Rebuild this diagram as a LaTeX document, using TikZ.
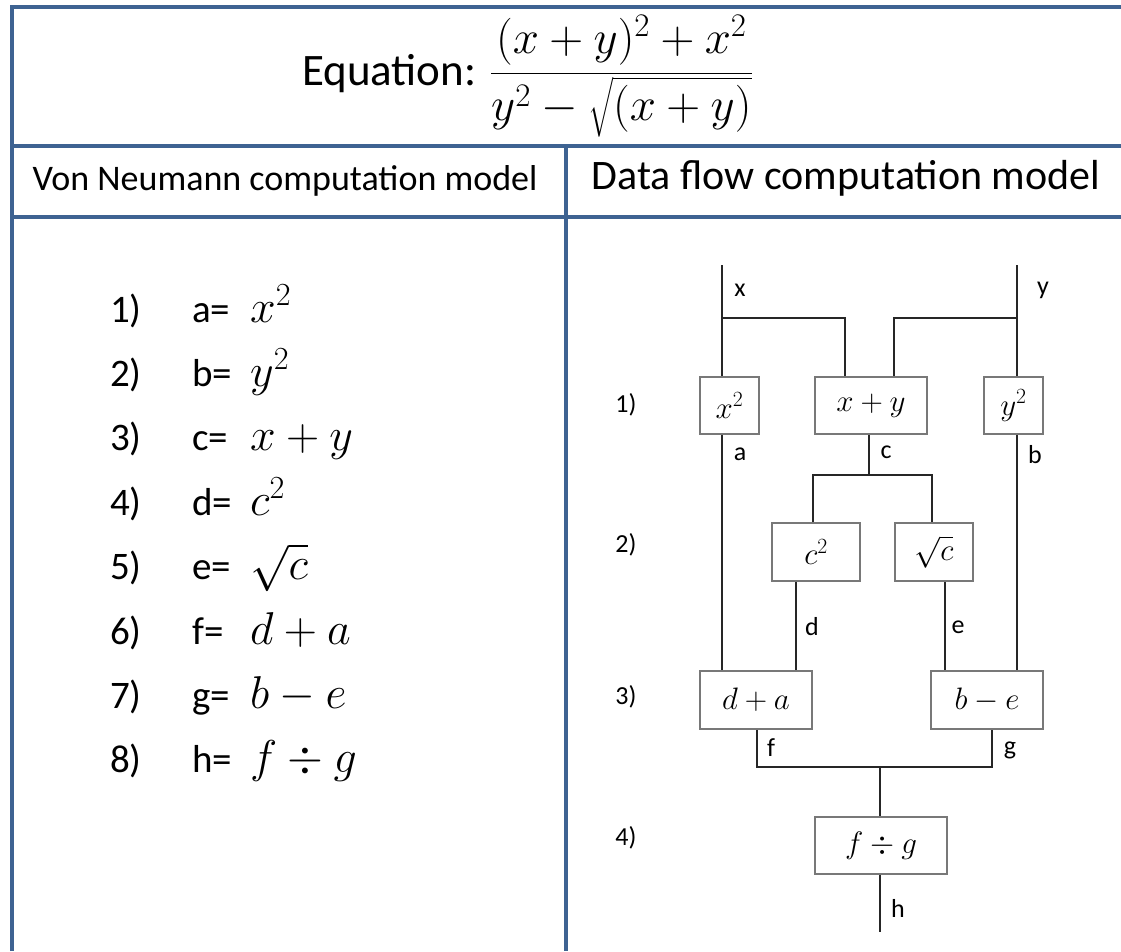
\RequirePackage{fix-cm}
\documentclass[tikz,border=0pt]{standalone}
\usepackage{amsmath}
\usepackage{fontspec}
\setmainfont{Carlito}
\usetikzlibrary{positioning}

\definecolor{tableblue}{RGB}{62,99,146}
\definecolor{boxgray}{RGB}{120,120,120}

\tikzset{
  grid line/.style={tableblue, line width=4.5pt},
  opbox/.style={draw=boxgray, line width=1.6pt, minimum height=57pt, inner sep=0pt,
                font=\fontsize{31}{33}\selectfont},
  wire/.style={line width=2.6pt, black!85},
  lbl/.style={font=\fontsize{26}{28}\selectfont, inner sep=0pt},
  listtext/.style={anchor=base west, inner sep=0pt, font=\fontsize{39}{41}\selectfont},
  listmath/.style={anchor=base west, inner sep=0pt, font=\fontsize{46}{48}\selectfont},
}

\begin{document}
\begin{tikzpicture}[x=1pt, y=-1pt]
    \useasboundingbox (0,0) rectangle (1121,951);

    % Table frame
    \draw[grid line] (12,951) -- (12,7) -- (1121,7);
    \draw[grid line] (12,146) -- (1121,146);
    \draw[grid line] (12,217) -- (1121,217);
    \draw[grid line] (566,146) -- (566,951);

    % Equation and column heads
    \node (eqn) [anchor=base west, inner sep=0pt, font=\fontsize{45}{48}\selectfont] at (302,85)
        {Equation: \fontsize{47}{50}\selectfont$\dfrac{(x+y)^2+x^2}{y^2-\sqrt{(x+y)}}$};
    \node (vnhead) [font=\fontsize{36}{40}\selectfont] at (285,181) {Von Neumann computation model};
    \node (dfhead) [font=\fontsize{42}{46}\selectfont] at (846,178) {Data flow computation model};

    % Von Neumann: one statement per step
    \foreach \n/\v/\e in {1/a/x^2, 2/b/y^2, 3/c/x+y, 4/d/c^2, 5/e/\sqrt{c}, 6/f/d+a, 7/g/b-e, 8/h/f\div g} {
        \node[listtext] (num\n) at (110,{322+64.4*(\n-1)}) {\n)};
        \node[listtext] (var\n) at (192,{322+64.4*(\n-1)}) {\v=};
        \node[listmath] (expr\n) at (250,{322+64.4*(\n-1)}) {$\e$};
    }

    % Data flow: step numbers
    \foreach \s/\yy in {1/405, 2/545, 3/697, 4/838}
        \node[lbl] (step\s) at (626,\yy) {\s)};

    % Inputs and junctions
    \coordinate (xin) at (722,265);
    \coordinate (yin) at (1017,265);
    \coordinate (xsplit) at (722,318);
    \coordinate (ysplit) at (1017,318);
    \coordinate (csplit) at (869,475);
    \coordinate (fgjoin) at (880,767);
    \coordinate (hout) at (880,932);

    % Operation boxes
    \node[opbox, minimum width=59pt] (xsq) at (729.5,405.5) {$x^2$};
    \node[opbox, minimum width=112pt] (xpy) at (871,405.5) {$x+y$};
    \node[opbox, minimum width=59pt] (ysq) at (1013.5,405.5) {$y^2$};
    \node[opbox, minimum width=88pt, minimum height=58pt] (csq) at (816,552) {$c^2$};
    \node[opbox, minimum width=78pt, minimum height=58pt] (sqc) at (934,552) {$\sqrt{c}$};
    \node[opbox, minimum width=112pt, minimum height=58pt] (dpa) at (756,700) {$d+a$};
    \node[opbox, minimum width=112pt, minimum height=58pt] (bme) at (987,700) {$b-e$};
    \node[opbox, minimum width=132pt] (fdg) at (881,845.5) {$f\div g$};

    % Wires
    \draw[wire] (xin) -- (xin |- xsq.north);
    \draw[wire] (yin) -- (yin |- ysq.north);
    \draw[wire] (xsplit) -| ([xshift=-26pt]xpy.north);
    \draw[wire] (ysplit) -| ([xshift=23pt]xpy.north);
    \draw[wire] (xsq.south -| xin) -- (dpa.north -| xin);
    \draw[wire] (ysq.south -| yin) -- (bme.north -| yin);
    \draw[wire] (xpy.south -| csplit) -- (csplit);
    \draw[wire] ([xshift=-3pt]csq.north) |- (csplit) -| ([xshift=-2pt]sqc.north);
    \draw[wire] ([xshift=-20pt]csq.south) -- ([xshift=40pt]dpa.north);
    \draw[wire] ([xshift=11pt]sqc.south) -- ([xshift=-42pt]bme.north);
    \draw[wire] ([xshift=1pt]dpa.south) |- (fgjoin) -| ([xshift=5pt]bme.south);
    \draw[wire] (fgjoin) -- (fgjoin |- fdg.north);
    \draw[wire] (fdg.south -| hout) -- (hout);

    % Wire labels
    \node[lbl] (xlbl) at (740,290) {x};
    \node[lbl] (ylbl) at (1043,290) {y};
    \node[lbl] (albl) at (740,454) {a};
    \node[lbl] (clbl) at (886,452) {c};
    \node[lbl] (blbl) at (1035,455) {b};
    \node[lbl] (dlbl) at (812,627) {d};
    \node[lbl] (elbl) at (958,627) {e};
    \node[lbl] (flbl) at (771,748) {f};
    \node[lbl] (glbl) at (1010,750) {g};
    \node[lbl] (hlbl) at (898,908) {h};
\end{tikzpicture}
\end{document}
